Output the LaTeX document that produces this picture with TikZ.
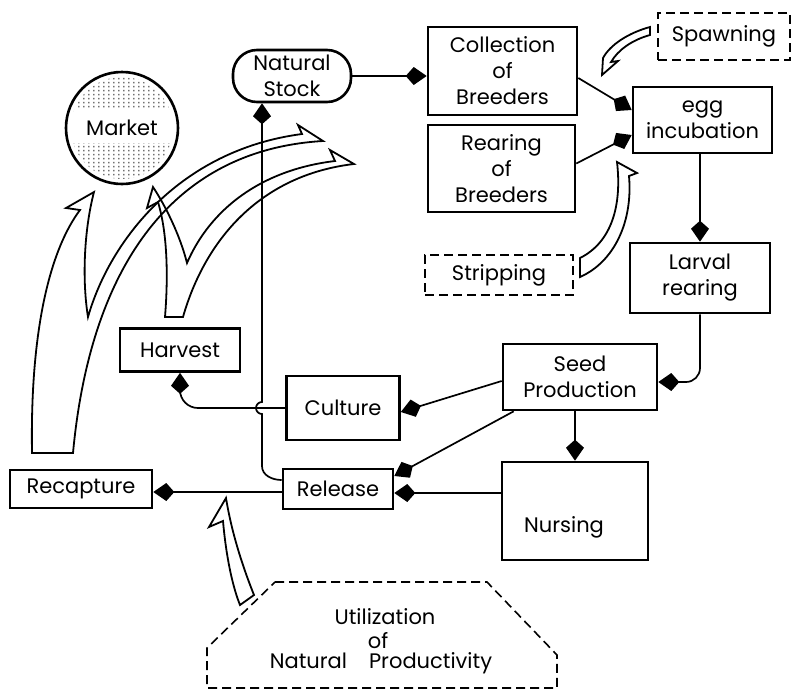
\documentclass[tikz,border=0pt]{standalone}
\usepackage{fontspec}
\setmainfont{Poppins}
\usetikzlibrary{arrows.meta,patterns,patterns.meta}
\tikzdeclarepattern{
  name=stipple, type=uncolored,
  bounding box={(0,0) and (4.5pt,3.5pt)},
  tile size={(4.5pt,3.5pt)},
  code={\fill (1.6pt,0.6pt) rectangle (2.6pt,2.4pt);}
}
\tikzset{
  lbl/.style={font=\fontsize{21}{26}\selectfont, align=center, inner sep=0pt},
  box/.style={lbl, draw, line width=2.6pt},
  dbox/.style={lbl, draw, line width=1.6pt, dash pattern=on 9pt off 5pt},
  conn/.style={line width=1.7pt, -{Kite[length=21pt,width=18pt,inset=8pt]}},
  hollow/.style={line width=1.8pt, line join=miter},
}
\begin{document}
\begin{tikzpicture}[x=1pt,y=-1pt]
\useasboundingbox (0,0) rectangle (792,691);

% Market
\begin{scope}
  \clip (122,128) circle[radius=51];
  \fill[pattern=stipple, pattern color=black!85] (60,60) rectangle (190,200);
  \fill[white] (60,108) rectangle (190,143);
\end{scope}
\node[lbl, circle, draw, line width=2.6pt, minimum size=112pt] (market) at (122,128) {Market};

% boxes
\node[box, rounded corners=24pt, minimum width=118pt, minimum height=52pt] (natstock) at (292,76) {Natural\\Stock};
\node[box, minimum width=149pt, minimum height=88pt] (coll) at (502.5,71) {Collection\\of\\Breeders};
\node[box, minimum width=147pt, minimum height=87pt] (rear) at (501.5,168.5) {Rearing\\of\\Breeders};
\node[dbox, minimum width=132pt, minimum height=47pt] (spawn) at (724,36.5) {Spawning};
\node[box, minimum width=139pt, minimum height=66pt] (egg) at (702.5,120) {egg\\incubation};
\node[dbox, minimum width=148pt, minimum height=40pt] (strip) at (499,275) {Stripping};
\node[box, minimum width=140pt, minimum height=70pt] (larval) at (700,278) {Larval\\rearing};
\node[box, minimum width=154pt, minimum height=66pt] (seed) at (580,377) {Seed\\Production};
\node[box, minimum width=113pt, minimum height=64pt] (culture) at (343,408) {Culture};
\node[box, minimum width=120pt, minimum height=43pt] (harvest) at (180,350) {Harvest};
\node[box, minimum width=110pt, minimum height=40pt] (release) at (338,489) {Release};
\node[box, minimum width=142pt, minimum height=38pt] (recap) at (81,489) {Recapture};
\node[box, minimum width=146pt, minimum height=98pt] (nursing) at (575,511) {};
\node[lbl] (nursingtxt) at (564,527) {Nursing};

% Utilization octagon
\draw[line width=1.6pt, dash pattern=on 9pt off 5pt] (275,582) -- (487,582) -- (557,655) -- (557,688) -- (207,688) -- (207,648) -- cycle;
\node[lbl] (util1) at (385,617) {Utilization};
\node[lbl] (util2) at (378,641) {of};
\node[lbl] (util3) at (381,663) {Natural\hspace{22pt}Productivity};

% connectors
\draw[conn] (natstock.east) -- (natstock.east -| coll.west);
\draw[conn] ([yshift=-7pt]coll.east) -- ([yshift=10pt]egg.west);
\draw[conn] ([yshift=5pt]rear.east) -- ([yshift=-15pt]egg.west);
\draw[conn] (egg.south -| larval.north) -- (larval.north);
\draw[conn, rounded corners=14pt] (larval.south) |- ([yshift=-5pt]seed.east);
\draw[conn] (nursing.north |- seed.south) -- (nursing.north);
\draw[conn] ([yshift=-4pt]seed.west) -- ([yshift=-4pt]culture.east);
\draw[conn] ([xshift=12pt]seed.south west) -- ([yshift=13pt]release.east);
\draw[conn] ([yshift=-4pt]release.east -| nursing.west) -- ([yshift=-4pt]release.east);
\draw[conn] ([yshift=-3pt]release.west) -- ([yshift=-3pt]release.west -| recap.east);
\draw[conn, rounded corners=18pt] (culture.west) -| (harvest.south);
\draw[conn] ([yshift=9pt]release.west) to[out=180,in=-90] (262,466) -- (262,414)
   arc[start angle=90, end angle=270, radius=6] -- ([xshift=-30pt]natstock.south);

% hollow arrows
\draw[hollow] (32,453) -- (73,453) .. controls (90,270) and (170,150) .. (323,141)
  -- (298,125) -- (302,134) .. controls (180,150) and (110,240) .. (88,317)
  .. controls (82,280) and (84,230) .. (94,192) -- (66,208) -- (80,210)
  .. controls (50,250) and (30,330) .. (32,453) -- cycle;
\draw[hollow] (165,317) -- (183,317) .. controls (205,240) and (260,175) .. (354,164)
  -- (330,150) -- (335,161) .. controls (260,170) and (210,210) .. (187,263)
  .. controls (180,235) and (165,205) .. (153,187) -- (147,208) -- (158,202)
  .. controls (168,235) and (168,280) .. (165,317) -- cycle;
\draw[hollow] (226,498) -- (209,527) -- (223,521) .. controls (226,555) and (232,585) .. (240,605)
  -- (254,595) .. controls (244,570) and (232,535) .. (226,498) -- cycle;
\draw[hollow] (650,27) .. controls (628,33) and (610,45) .. (603,58) -- (602,75) -- (618,61)
  -- (611,62) .. controls (618,50) and (632,40) .. (650,35) -- cycle;
\draw[hollow] (580,258) .. controls (612,242) and (622,205) .. (617,162) -- (637,173)
  -- (629,176) .. controls (633,222) and (614,262) .. (580,277) -- cycle;
\end{tikzpicture}
\end{document}
